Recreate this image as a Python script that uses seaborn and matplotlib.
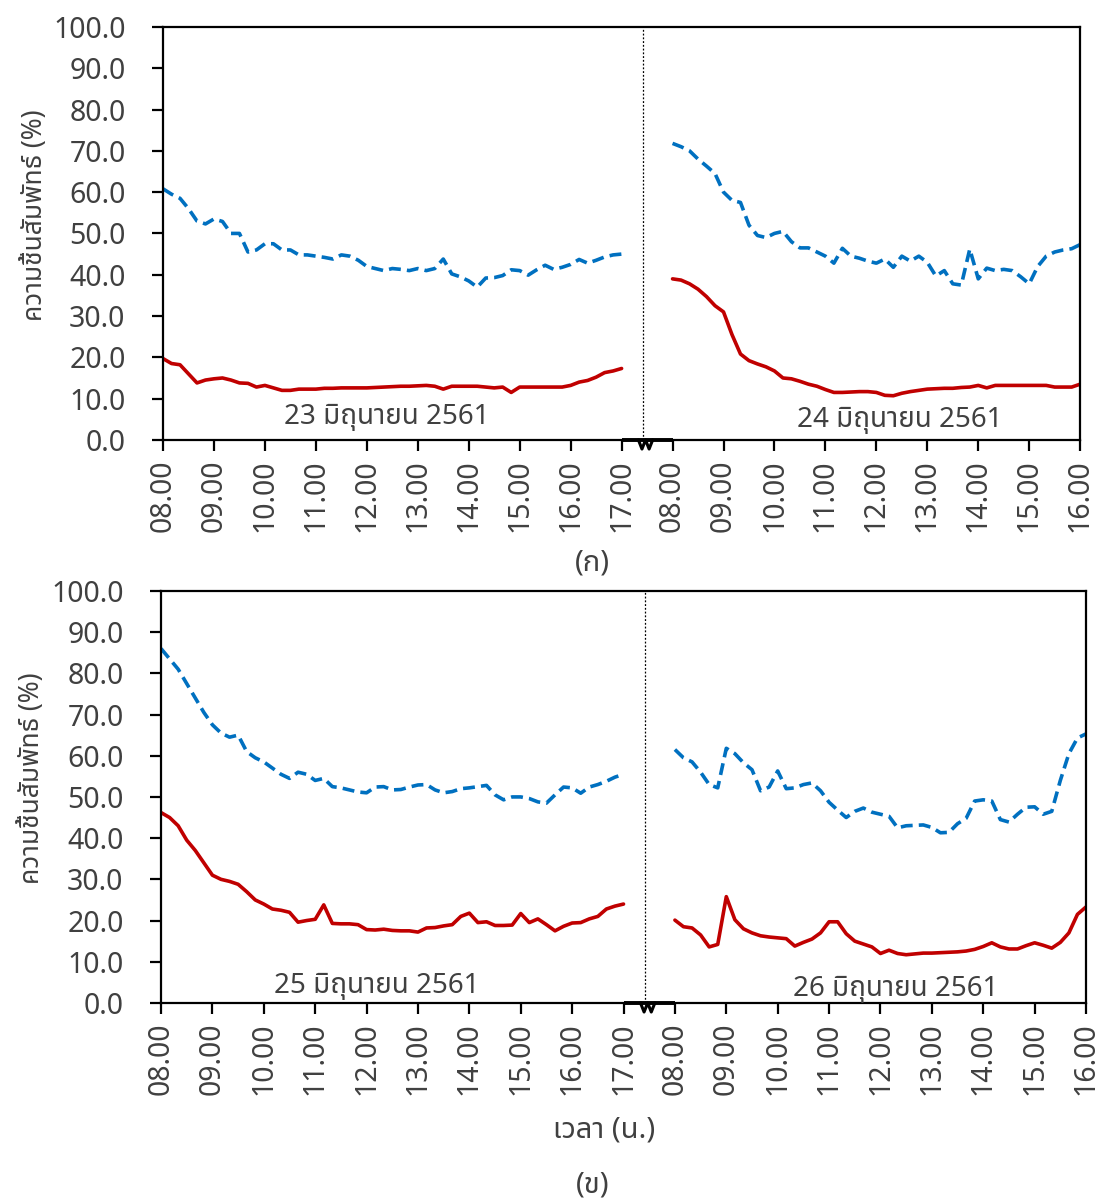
import numpy as np
import pandas as pd
import matplotlib
matplotlib.use("Agg")
import matplotlib.pyplot as plt
import matplotlib.transforms as mtransforms
import seaborn as sns

sns.set_style("ticks")
plt.rcParams['font.family'] = ['Noto Sans Thai', 'DejaVu Sans']

# tick labels on the broken time axis (two days side by side)
tick_labels = ["08.00", "09.00", "10.00", "11.00", "12.00", "13.00", "14.00", "15.00", "16.00", "17.00",
               "08.00", "09.00", "10.00", "11.00", "12.00", "13.00", "14.00", "15.00", "16.00"]
day_labels_a = ["23 มิถุนายน 2561", "24 มิถุนายน 2561"]
day_labels_b = ["25 มิถุนายน 2561", "26 มิถุนายน 2561"]

# relative humidity (%) every 10 min, 08.00-17.00 (day 1) and 08.00-16.00 (day 2)
d23_blue = [60.8, 59.5, 58.5, 56.0, 53.0, 52.3, 53.5, 52.9, 50.0, 50.0, 45.5, 46.0, 47.5, 47.5, 46.0, 46.0,
            44.8, 44.8, 44.5, 44.2, 43.8, 44.8, 44.5, 43.5, 42.0, 41.5, 41.0, 41.5, 41.3, 41.0, 41.5, 41.0,
            41.5, 43.8, 40.2, 39.5, 38.5, 37.0, 39.2, 39.3, 39.8, 41.2, 41.0, 39.9, 41.2, 42.3, 41.3, 41.8,
            42.5, 43.7, 42.8, 43.5, 44.3, 44.8, 45.0]
d23_red = [19.7, 18.5, 18.2, 16.0, 13.8, 14.5, 14.8, 15.0, 14.5, 13.8, 13.7, 12.8, 13.2, 12.6, 12.0, 12.0,
           12.3, 12.3, 12.3, 12.5, 12.5, 12.6, 12.6, 12.6, 12.6, 12.7, 12.8, 12.9, 13.0, 13.0, 13.1, 13.2,
           13.0, 12.3, 13.0, 13.0, 13.0, 13.0, 12.8, 12.6, 12.8, 11.5, 12.8, 12.8, 12.8, 12.8, 12.8, 12.8,
           13.2, 14.0, 14.4, 15.2, 16.3, 16.7, 17.3]
d24_blue = [71.8, 71.0, 70.0, 68.0, 66.3, 64.5, 60.0, 58.0, 57.5, 52.0, 49.5, 49.0, 50.0, 50.5, 48.0, 46.5,
            46.5, 45.5, 44.5, 42.8, 46.4, 44.5, 44.0, 43.3, 42.8, 43.8, 41.8, 44.5, 43.3, 44.5, 43.0, 39.7,
            41.0, 37.8, 37.5, 46.2, 39.0, 41.6, 41.0, 41.3, 41.0, 39.5, 37.8, 42.0, 44.5, 45.5, 46.0, 46.3,
            47.3]
d24_red = [39.0, 38.7, 37.8, 36.5, 34.7, 32.5, 31.0, 25.5, 20.8, 19.2, 18.4, 17.7, 16.7, 15.0, 14.8, 14.2,
           13.5, 13.0, 12.2, 11.5, 11.5, 11.6, 11.7, 11.7, 11.5, 10.8, 10.7, 11.3, 11.7, 12.0, 12.3, 12.4,
           12.5, 12.5, 12.7, 12.8, 13.2, 12.6, 13.2, 13.2, 13.2, 13.2, 13.2, 13.2, 13.2, 12.8, 12.8, 12.8,
           13.5]
d25_blue = [86.0, 83.5, 81.0, 77.5, 74.0, 70.5, 67.5, 65.5, 64.5, 65.0, 61.0, 59.5, 58.5, 57.0, 55.5, 54.5,
            56.0, 55.5, 54.0, 54.5, 52.5, 52.2, 51.7, 51.2, 51.0, 52.4, 52.5, 51.7, 51.8, 52.4, 52.9, 53.0,
            51.7, 51.0, 51.3, 52.0, 52.2, 52.5, 52.8, 50.5, 49.3, 50.0, 50.0, 49.6, 48.8, 48.5, 50.5, 52.4,
            52.2, 50.9, 52.4, 53.0, 53.8, 54.8, 55.5]
d25_red = [46.2, 45.0, 43.0, 39.5, 37.0, 34.0, 31.0, 30.0, 29.5, 28.8, 27.0, 25.0, 24.0, 22.8, 22.5, 22.0,
           19.6, 20.0, 20.3, 23.8, 19.3, 19.2, 19.2, 19.0, 17.8, 17.7, 17.9, 17.6, 17.5, 17.5, 17.2, 18.2,
           18.3, 18.7, 19.0, 21.0, 21.8, 19.5, 19.7, 18.8, 18.8, 18.9, 21.7, 19.5, 20.4, 19.0, 17.5, 18.6,
           19.4, 19.5, 20.4, 21.0, 22.8, 23.5, 24.0]
d26_blue = [61.5, 59.5, 58.5, 56.0, 53.0, 52.2, 61.8, 60.5, 58.3, 56.6, 51.5, 52.4, 56.3, 52.0, 52.2, 53.0,
            53.4, 51.5, 48.7, 46.8, 45.0, 46.5, 47.3, 46.3, 45.8, 45.3, 42.5, 43.0, 43.1, 43.2, 42.6, 41.3,
            41.4, 43.5, 44.8, 49.0, 49.3, 49.0, 44.5, 43.9, 45.8, 47.5, 47.6, 45.8, 46.5, 54.0, 60.5, 64.3,
            65.3]
d26_red = [20.1, 18.5, 18.2, 16.5, 13.6, 14.2, 25.8, 20.2, 18.0, 17.0, 16.3, 16.0, 15.8, 15.6, 13.8, 14.7,
           15.5, 17.0, 19.7, 19.7, 16.8, 15.0, 14.3, 13.6, 12.0, 12.8, 12.0, 11.7, 11.9, 12.1, 12.1, 12.2,
           12.3, 12.4, 12.6, 13.0, 13.7, 14.6, 13.6, 13.1, 13.1, 13.9, 14.6, 14.0, 13.3, 14.7, 17.0, 21.5,
           23.3]

BLUE = "#0070C0"
RED = "#C00000"
TXT = "#404040"


def day_frame(blue, red, offset):
    # 10-min steps -> hour units on the shared axis; second day starts one slot after 17.00
    x = offset + np.arange(len(blue)) / 6.0
    return pd.DataFrame({"x": x, "blue": blue, "red": red})


def draw_panel(ax, days, labels, label_pos):
    for k, (blue, red) in enumerate(days):
        df = day_frame(blue, red, 10 * k)
        sns.lineplot(data=df, x="x", y="blue", ax=ax, color=BLUE, lw=2.6,
                     dashes=False, linestyle=(0, (3.3, 1.7)))
        sns.lineplot(data=df, x="x", y="red", ax=ax, color=RED, lw=2.6)
        ax.text(label_pos[k][0], label_pos[k][1], labels[k], ha="center", va="center",
                fontsize=20, color=TXT)

    ax.set_xlim(0, 18)
    ax.set_ylim(0, 100)
    ax.set_xticks(range(len(tick_labels)))
    ax.set_xticklabels(tick_labels, rotation=90, fontsize=20.5, color=TXT)
    ax.set_yticks(np.arange(0, 101, 10))
    ax.set_yticklabels([f"{v:.1f}" for v in np.arange(0, 101, 10)], fontsize=20.5, color=TXT)
    ax.set_xlabel("")
    ax.set_ylabel("ความชื้นสัมพัทธ์ (%)", fontsize=19, color=TXT)
    ax.yaxis.set_label_coords(-0.124, 0.545)
    for s in ax.spines.values():
        s.set_visible(True)
        s.set_color("black")
        s.set_linewidth(1.6)
    ax.tick_params(axis="x", direction="out", length=8, width=1.6, color="black", pad=6)
    ax.tick_params(axis="y", direction="out", length=8, width=1.6, color="black", pad=19)

    # dotted separator between the two days
    ax.axvline(9.42, color="black", lw=0.9, ls=(0, (1.5, 1.5)))

    # axis-break mark between 17.00 and 08.00
    trans = mtransforms.blended_transform_factory(ax.transData, ax.transAxes)
    ax.plot([9.0, 10.0], [0.0, 0.0], color="black", lw=2.8, transform=trans, clip_on=False,
            solid_capstyle="butt")
    ax.plot([9.33, 9.40, 9.47, 9.54, 9.61], [0.0, -0.022, 0.0, -0.022, 0.0], color="black",
            lw=2.2, transform=trans, clip_on=False)


fig = plt.figure(figsize=(11.03, 12.02), dpi=100)
ax1 = fig.add_axes([0.1478, 0.634, 0.8315, 0.3436])
ax2 = fig.add_axes([0.146, 0.1656, 0.8386, 0.3428])

draw_panel(ax1, [(d23_blue, d23_red), (d24_blue, d24_red)], day_labels_a, [(4.4, 5.5), (14.45, 4.9)])
draw_panel(ax2, [(d25_blue, d25_red), (d26_blue, d26_red)], day_labels_b, [(4.2, 4.1), (14.3, 3.3)])

fig.text(0.537, 1 - 563 / 1202, "(ก)", ha="center", va="center", fontsize=21, color=TXT)
fig.text(0.548, 1 - 1130 / 1202, "เวลา (น.)", ha="center", va="center", fontsize=21, color=TXT)
fig.text(0.537, 1 - 1185 / 1202, "(ข)", ha="center", va="center", fontsize=21, color=TXT)

fig.savefig("out.png", dpi=100)
